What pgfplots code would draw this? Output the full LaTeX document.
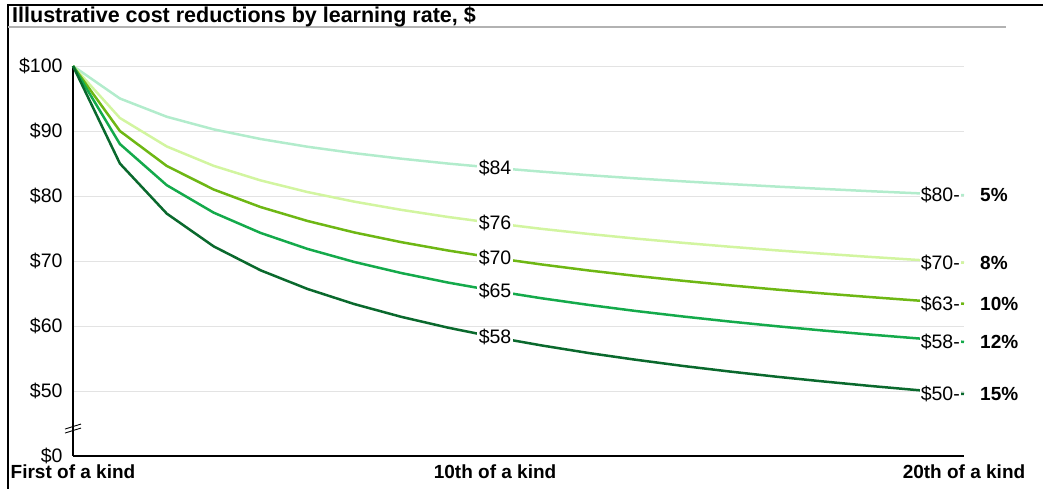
\documentclass[border=0pt]{standalone}
\usepackage{fontspec}
\setmainfont{Liberation Sans}
\usepackage{pgfplots}
\pgfplotsset{compat=1.18}
\definecolor{c5}{RGB}{178,236,204}
\definecolor{c8}{RGB}{210,245,160}
\definecolor{c10}{RGB}{110,183,20}
\definecolor{c12}{RGB}{20,170,75}
\definecolor{c15}{RGB}{10,105,45}
\newcommand{\fs}{\fontsize{19.5}{22}\selectfont}
\newcommand{\fb}{\bfseries\fontsize{19}{22}\selectfont}
\begin{document}
\begin{tikzpicture}
\useasboundingbox (0pt,0pt) rectangle (1043pt,-489pt);
\draw[black,line width=2pt] (8pt,-489pt) -- (8pt,-5pt) -- (1043pt,-5pt);
\draw[gray!60,line width=1.2pt] (8pt,-27pt) -- (1006pt,-27pt);
\node[anchor=base west,font=\bfseries\fontsize{21.5}{24}\selectfont,inner sep=0pt] at (12pt,-23pt) {Illustrative cost reductions by learning rate, \$};
\begin{axis}[
  at={(73pt,-456pt)}, anchor=south west,
  scale only axis, width=891pt, height=390pt,
  xmin=1, xmax=20, ymin=40, ymax=100,
  axis lines=left, axis line style={-, black, line width=1.2pt},
  xtick={1,10,20},
  xticklabels={First of a kind,10th of a kind,20th of a kind},
  xticklabel style={font=\fb, yshift=-5pt},
  ytick={40,50,60,70,80,90,100},
  yticklabels={\$0,\$50,\$60,\$70,\$80,\$90,\$100},
  yticklabel style={font=\fs, xshift=-7pt},
  ymajorgrids, grid style={gray!22, line width=0.8pt},
  major tick length=0pt, clip=false,
]
\addplot[c5, line width=2.5pt] coordinates {(1,100)(2,95.00)(3,92.19)(4,90.25)(5,88.77)(6,87.58)(7,86.59)(8,85.74)(9,84.99)(10,84.33)(11,83.74)(12,83.20)(13,82.71)(14,82.26)(15,81.84)(16,81.45)(17,81.09)(18,80.74)(19,80.42)(20,80.12)};
\addplot[c8, line width=2.5pt] coordinates {(1,100)(2,92.00)(3,87.62)(4,84.64)(5,82.40)(6,80.61)(7,79.13)(8,77.87)(9,76.77)(10,75.81)(11,74.94)(12,74.16)(13,73.45)(14,72.80)(15,72.20)(16,71.64)(17,71.12)(18,70.63)(19,70.17)(20,69.74)};
\addplot[c10, line width=2.5pt] coordinates {(1,100)(2,90.00)(3,84.62)(4,81.00)(5,78.30)(6,76.16)(7,74.39)(8,72.90)(9,71.61)(10,70.47)(11,69.46)(12,68.54)(13,67.71)(14,66.96)(15,66.26)(16,65.61)(17,65.01)(18,64.45)(19,63.92)(20,63.42)};
\addplot[c12, line width=2.5pt] coordinates {(1,100)(2,88.00)(3,81.66)(4,77.44)(5,74.32)(6,71.86)(7,69.85)(8,68.15)(9,66.68)(10,65.40)(11,64.26)(12,63.24)(13,62.31)(14,61.47)(15,60.69)(16,59.97)(17,59.30)(18,58.68)(19,58.10)(20,57.55)};
\addplot[c15, line width=2.5pt] coordinates {(1,100)(2,85.00)(3,77.29)(4,72.25)(5,68.57)(6,65.70)(7,63.37)(8,61.41)(9,59.74)(10,58.28)(11,57.00)(12,55.84)(13,54.81)(14,53.86)(15,53.00)(16,52.20)(17,51.47)(18,50.78)(19,50.14)(20,49.54)};
% middle labels
\node[fill=white,inner sep=1.5pt,font=\fs] at (axis cs:10,84.33) {\$84};
\node[fill=white,inner sep=1.5pt,font=\fs] at (axis cs:10,75.81) {\$76};
\node[fill=white,inner sep=1.5pt,font=\fs] at (axis cs:10,70.47) {\$70};
\node[fill=white,inner sep=1.5pt,font=\fs] at (axis cs:10,65.40) {\$65};
\node[fill=white,inner sep=1.5pt,font=\fs] at (axis cs:10,58.28) {\$58};
% end labels
\node[fill=white,inner sep=1pt,font=\fs,anchor=east,xshift=-3pt] at (axis cs:20,80.12) {\$80-};
\node[fill=white,inner sep=1pt,font=\fs,anchor=east,xshift=-3pt] at (axis cs:20,69.74) {\$70-};
\node[fill=white,inner sep=1pt,font=\fs,anchor=east,xshift=-3pt] at (axis cs:20,63.42) {\$63-};
\node[fill=white,inner sep=1pt,font=\fs,anchor=east,xshift=-3pt] at (axis cs:20,57.55) {\$58-};
\node[fill=white,inner sep=1pt,font=\fs,anchor=east,xshift=-3pt] at (axis cs:20,49.54) {\$50-};
\node[inner sep=0pt,font=\fb,anchor=west,xshift=16pt] at (axis cs:20,80.12) {5\%};
\node[inner sep=0pt,font=\fb,anchor=west,xshift=16pt] at (axis cs:20,69.74) {8\%};
\node[inner sep=0pt,font=\fb,anchor=west,xshift=16pt] at (axis cs:20,63.42) {10\%};
\node[inner sep=0pt,font=\fb,anchor=west,xshift=16pt] at (axis cs:20,57.55) {12\%};
\node[inner sep=0pt,font=\fb,anchor=west,xshift=16pt] at (axis cs:20,49.54) {15\%};
% axis break
\draw[black,line width=0.9pt] ([xshift=-8pt,yshift=-5pt]axis cs:1,44.3) -- ([xshift=8pt,yshift=0pt]axis cs:1,44.3);
\draw[black,line width=0.9pt] ([xshift=-8pt,yshift=-1pt]axis cs:1,44.3) -- ([xshift=8pt,yshift=4pt]axis cs:1,44.3);
\end{axis}
\end{tikzpicture}
\end{document}
